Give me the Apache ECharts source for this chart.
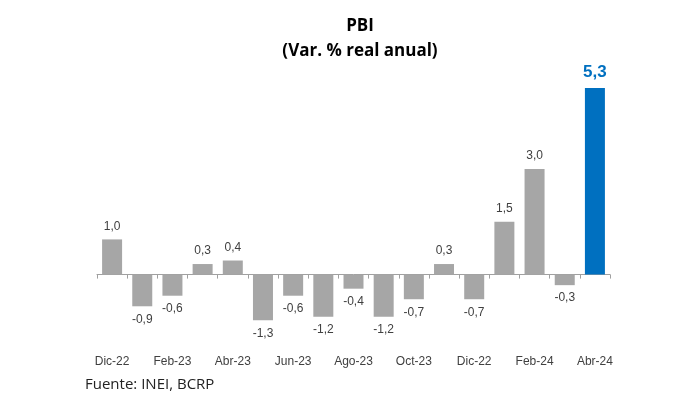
<!DOCTYPE html>
<html><head><meta charset="utf-8">
<script src="https://cdn.jsdelivr.net/npm/echarts@6/dist/echarts.min.js"></script>
<style>html,body{margin:0;padding:0;background:#fff}#c{width:699px;height:394px}</style>
</head><body><div id="c"></div>
<script>
const categories = ['Dic-22','Ene-23','Feb-23','Mar-23','Abr-23','May-23','Jun-23','Jul-23','Ago-23','Sep-23','Oct-23','Nov-23','Dic-22','Ene-24','Feb-24','Mar-24','Abr-24'];
const values = [1.0,-0.9,-0.6,0.3,0.4,-1.3,-0.6,-1.2,-0.4,-1.2,-0.7,0.3,-0.7,1.5,3.0,-0.3,5.3];
const titleText = 'PBI';
const subtitleText = '(Var. % real anual)';
const sourceText = 'Fuente: INEI, BCRP';

const last = values.length - 1;
const data = values.map((v, i) => {
  const d = { value: v };
  if (i === last) {
    d.itemStyle = { color: '#0070C0' };
    d.label = { color: '#0070C0', fontWeight: 'bold', fontSize: 17, fontFamily: 'Liberation Sans Narrow, Liberation Sans, Arial' };
  }
  if (v < 0) d.label = Object.assign({ position: 'bottom' }, d.label || {});
  return d;
});

const chart = echarts.init(document.getElementById('c'));
chart.setOption({
  animation: false,
  backgroundColor: '#fff',
  title: [
    { text: titleText, left: 355, top: 13, textAlign: 'center',
      textStyle: { fontFamily: 'Open Sans', fontWeight: 'bold', fontSize: 17, color: '#000' } },
    { text: subtitleText, left: 355, top: 38, textAlign: 'center',
      textStyle: { fontFamily: 'Open Sans', fontWeight: 'bold', fontSize: 17, color: '#000' } },
    { text: sourceText, left: 80, top: 372,
      textStyle: { fontFamily: 'Open Sans', fontWeight: 'normal', fontSize: 15, color: '#222' } }
  ],
  grid: { left: 97, right: 89, top: 81, bottom: 49 },
  xAxis: {
    type: 'category',
    data: categories,
    axisLine: { onZero: true, lineStyle: { color: '#A0A0A0', width: 1 } },
    axisTick: { show: true, alignWithLabel: false, interval: 0, length: 4, inside: false, lineStyle: { color: '#A0A0A0' } },
    axisLabel: {
      interval: 1, color: '#404040', fontSize: 12, fontFamily: 'Liberation Sans',
      margin: 11
    },
    position: 'bottom'
  },
  yAxis: {
    type: 'value', min: -2, max: 5.5, show: false, splitLine: { show: false }
  },
  series: [{
    type: 'bar',
    data: data,
    barWidth: 20,
    itemStyle: { color: '#A6A6A6' },
    label: {
      show: true, position: 'top', distance: 7,
      color: '#404040', fontSize: 12, fontFamily: 'Liberation Sans',
      formatter: p => p.value.toFixed(1).replace('.', ',')
    }
  }]
});
</script>
</body></html>
